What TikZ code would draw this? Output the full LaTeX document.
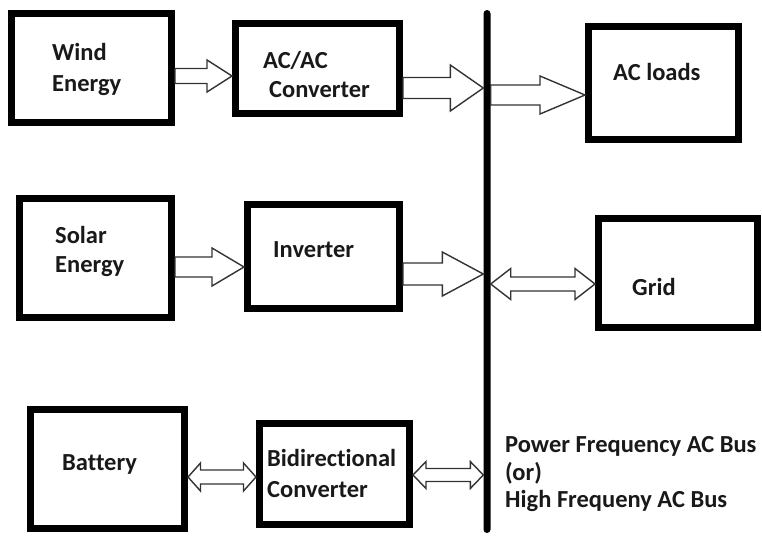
\documentclass[tikz,border=0pt]{standalone}
\usepackage{fontspec}
\setmainfont{Carlito}[Ligatures=NoCommon]
\usetikzlibrary{calc}
\newcommand\rarrow[5]{%
  \draw[blk] let \p1=#1, \p2=#2 in
    (\x1,\y1+#3pt) -- (\x2-#5pt,\y1+#3pt) -- (\x2-#5pt,\y1+#4pt) -- (\x2,\y1)
    -- (\x2-#5pt,\y1-#4pt) -- (\x2-#5pt,\y1-#3pt) -- (\x1,\y1-#3pt) -- cycle;}
\newcommand\darrow[5]{%
  \draw[blk] let \p1=#1, \p2=#2 in
    (\x1,\y1) -- (\x1+#5pt,\y1+#4pt) -- (\x1+#5pt,\y1+#3pt) -- (\x2-#5pt,\y1+#3pt)
    -- (\x2-#5pt,\y1+#4pt) -- (\x2,\y1) -- (\x2-#5pt,\y1-#4pt) -- (\x2-#5pt,\y1-#3pt)
    -- (\x1+#5pt,\y1-#3pt) -- (\x1+#5pt,\y1-#4pt) -- cycle;}
\begin{document}
\begin{tikzpicture}[x=1pt,y=-1pt,
  box/.style={draw=black, line width=7pt, fill=white, inner sep=0pt},
  lbl/.style={inner sep=0pt, anchor=base west, text=black!90,
    font=\bfseries\fontsize{24.5}{30}\selectfont},
  blk/.style={draw=black!80, line width=1.4pt, fill=white, line join=miter}]
\useasboundingbox (0,0) rectangle (762,536);
\fill[white] (0,0) rectangle (762,536);
% bus
\node[fill=black, minimum width=7pt, minimum height=523pt, inner sep=0pt,
  rounded corners=3.5pt] (bus) at (487,271.5) {};
% boxes
\node[box, minimum width=160pt, minimum height=109pt] (wind) at (91.5,68) {};
\node[box, minimum width=164pt, minimum height=90pt] (acac) at (317.5,68.5) {};
\node[box, minimum width=150pt, minimum height=113pt] (acl) at (663.5,83) {};
\node[box, minimum width=152pt, minimum height=119pt] (solar) at (95.5,258) {};
\node[box, minimum width=152pt, minimum height=104pt] (inv) at (323.5,256.5) {};
\node[box, minimum width=158.5pt, minimum height=109pt] (grid) at (677.75,273) {};
\node[box, minimum width=154pt, minimum height=119pt] (bat) at (107.5,469) {};
\node[box, minimum width=150pt, minimum height=101pt] (bid) at (334.5,474) {};
% arrows
\rarrow{(wind.east |- 0,76)}{(acac.west |- 0,76)}{7.5}{16}{25}
\rarrow{(acac.east |- 0,88)}{(bus.west |- 0,88)}{10.5}{23}{33}
\rarrow{(bus.east |- 0,95)}{(acl.west |- 0,95)}{10}{19}{45}
\rarrow{(solar.east |- 0,267)}{(inv.west |- 0,267)}{10}{19}{32}
\rarrow{(inv.east |- 0,274)}{(bus.west |- 0,274)}{11}{22}{41}
\darrow{(bus.east |- 0,284)}{(grid.west |- 0,284)}{7}{15.5}{20}
\darrow{(bat.east |- 0,477)}{(bid.west |- 0,477)}{7}{14}{12.5}
\darrow{(bid.east |- 0,475)}{(bus.west |- 0,475)}{6.5}{13.5}{13}
% labels
\node[lbl] (t1) at (52,60) {Wind};
\node[lbl] (t2) at (52,91) {Energy};
\node[lbl] (t3) at (263,68) {AC/AC};
\node[lbl] (t4) at (269,97) {Converter};
\node[lbl] (t5) at (613,80) {AC loads};
\node[lbl] (t6) at (55,243) {Solar};
\node[lbl] (t7) at (55,272) {Energy};
\node[lbl] (t8) at (273,257) {Inverter};
\node[lbl] (t9) at (632,295) {Grid};
\node[lbl] (t10) at (62,470) {Battery};
\node[lbl] (t11) at (267,466) {Bidirectional};
\node[lbl] (t12) at (267,497) {Converter};
\node[lbl] (t13) at (505,452) {Power Frequency AC Bus};
\node[lbl] (t14) at (505,480) {(or)};
\node[lbl] (t15) at (505,507) {High Frequeny AC Bus};
\end{tikzpicture}
\end{document}
